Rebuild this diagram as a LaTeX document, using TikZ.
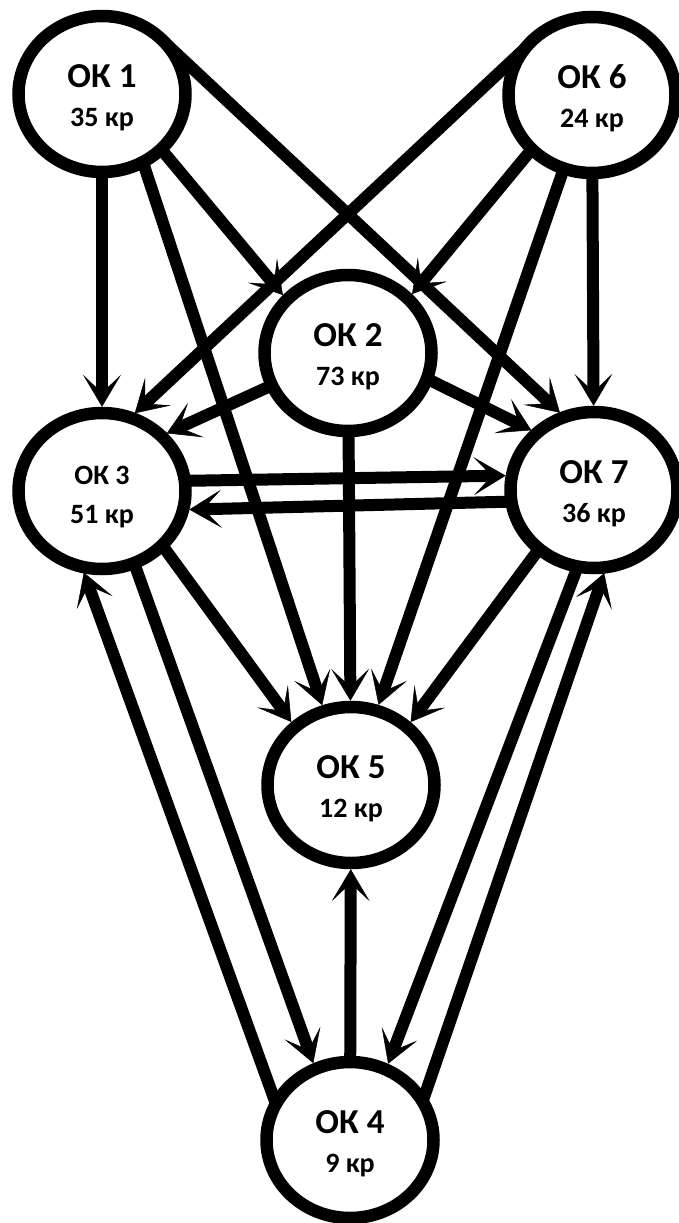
\documentclass[tikz,border=0pt]{standalone}
\usepackage{fontspec}
\setmainfont{Carlito}
\usetikzlibrary{arrows.meta,shapes.geometric,backgrounds}
\begin{document}
\begin{tikzpicture}[x=1pt,y=-1pt,
  ok/.style={ellipse, draw, fill=white, line width=12.5pt, minimum width=167pt, minimum height=156pt,
    inner sep=0pt, outer sep=0pt, align=center, font=\fontsize{35}{39}\selectfont\bfseries},
  link/.style={line width=12pt, shorten >=6.25pt, -{Stealth[length=32pt,width=38pt,inset=18pt,line width=0.5pt]}}]
\useasboundingbox (0,0) rectangle (678,1223);
\node[ok] (ok1) at (102,94)  {\rule{0pt}{30pt}ОК 1\\{\fontsize{28}{39}\selectfont 35 кр}};
\node[ok] (ok6) at (592,95)  {\rule{0pt}{30pt}ОК 6\\{\fontsize{28}{39}\selectfont 24 кр}};
\node[ok] (ok2) at (348,353) {\rule{0pt}{30pt}ОК 2\\{\fontsize{28}{39}\selectfont 73 кр}};
\node[ok] (ok3) at (102,491) {\rule{0pt}{30pt}{\fontsize{28}{39}\selectfont ОК 3}\\{\fontsize{28}{39}\selectfont 51 кр}};
\node[ok] (ok7) at (594,490) {\rule{0pt}{30pt}ОК 7\\{\fontsize{28}{39}\selectfont 36 кр}};
\node[ok] (ok5) at (351,785) {\rule{0pt}{30pt}ОК 5\\{\fontsize{28}{39}\selectfont 12 кр}};
\node[ok] (ok4) at (350,1140) {\rule{0pt}{30pt}ОК 4\\{\fontsize{28}{39}\selectfont 9 кр}};

\begin{pgfonlayer}{background}
\draw[link] (ok1) -- (ok3);
\draw[link] (ok1.-43) -- (ok2.139);
\draw[link] (ok1.40) -- (ok7.112);
\draw[link] (ok1.-59) -- (ok5.110);
\draw[link] (ok6) -- (ok7);
\draw[link] (ok6.-138) -- (ok2.42);
\draw[link] (ok6.145) -- (ok3.69);
\draw[link] (ok6.-111) -- (ok5.71);
\draw[link] (ok2.-157) -- (ok3.43);
\draw[link] (ok2.-18) -- (ok7.135);
\draw[link] (ok2) -- (ok5);
\draw[link] (ok3.7) -- (ok7.170);
\draw[link] (ok7.-172) -- (ok3.-13);
\draw[link] (ok3.-42) -- (ok5.134);
\draw[link] (ok7.-133) -- (ok5.46);
\draw[link] (ok3.-66) -- (ok4.116);
\draw[link] (ok4.154) -- (ok3.-105);
\draw[link] (ok7.-102) -- (ok4.63);
\draw[link] (ok4.28) -- (ok7.-81);
\draw[link] (ok4) -- (ok5);
\end{pgfonlayer}
\end{tikzpicture}
\end{document}
